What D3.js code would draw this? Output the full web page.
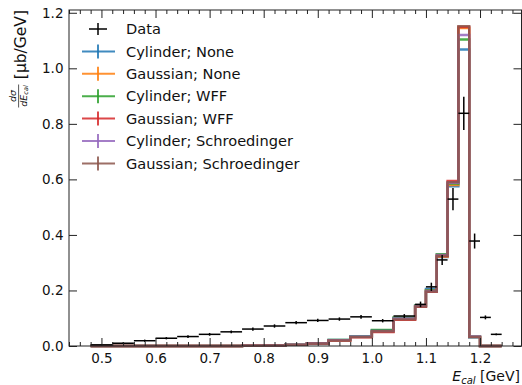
<!DOCTYPE html>
<html>
<head>
<meta charset="utf-8">
<script src="https://cdn.jsdelivr.net/npm/d3@7/dist/d3.min.js"></script>
<style>
  html, body { margin: 0; padding: 0; background: #fff; }
  svg { display: block; font-family: "DejaVu Sans", sans-serif; }
</style>
</head>
<body>
<svg id="chart" width="522" height="385"></svg>
<script>
// Bin edges of the calorimeter-energy histogram (GeV)
const binEdges = [0.48, 0.52, 0.56, 0.60, 0.64, 0.68, 0.72, 0.76, 0.80, 0.84, 0.88,
                  0.92, 0.96, 1.00, 1.04, 1.08, 1.10, 1.12, 1.14, 1.16, 1.18, 1.20, 1.22, 1.24];

// Measured cross section per bin and its uncertainty (μb/GeV)
const dataValues = [0.004, 0.010, 0.019, 0.028, 0.034, 0.042, 0.051, 0.061, 0.072, 0.084, 0.092,
                    0.097, 0.105, 0.091, 0.108, 0.150, 0.213, 0.310, 0.529, 0.838, 0.378, 0.103, 0.042];
const dataErrors = [0.003, 0.003, 0.004, 0.004, 0.005, 0.005, 0.005, 0.006, 0.006, 0.006, 0.006,
                    0.006, 0.007, 0.006, 0.007, 0.010, 0.015, 0.018, 0.040, 0.060, 0.027, 0.007, 0.003];

// Model predictions (nuclear density; form factor)
const cylinderNone = [0, 0, 0, 0, 0, 0, 0, 0.001, 0.002, 0.005, 0.010, 0.022, 0.035, 0.057, 0.100,
                      0.145, 0.205, 0.320, 0.575, 1.068, 0.030, 0, 0];
const gaussianNone = [0, 0, 0, 0, 0, 0, 0, 0.001, 0.002, 0.004, 0.009, 0.020, 0.033, 0.052, 0.097,
                      0.143, 0.200, 0.322, 0.580, 1.145, 0.032, 0, 0];
const cylinderWFF = [0, 0, 0, 0, 0, 0, 0, 0.001, 0.002, 0.005, 0.010, 0.022, 0.035, 0.058, 0.103,
                     0.146, 0.200, 0.331, 0.585, 1.104, 0.034, 0, 0];
const gaussianWFF = [0, 0, 0, 0, 0, 0, 0, 0.001, 0.002, 0.004, 0.009, 0.020, 0.031, 0.050, 0.094,
                     0.141, 0.195, 0.324, 0.594, 1.149, 0.033, 0, 0];
const cylinderSchroedinger = [0, 0, 0, 0, 0, 0, 0, 0.001, 0.002, 0.005, 0.010, 0.021, 0.034, 0.054, 0.099,
                              0.144, 0.198, 0.328, 0.588, 1.120, 0.034, 0, 0];
const gaussianSchroedinger = [0, 0, 0, 0, 0, 0, 0, 0.001, 0.002, 0.004, 0.009, 0.020, 0.032, 0.053, 0.096,
                              0.142, 0.196, 0.325, 0.590, 1.152, 0.033, 0, 0];

const seriesNames = ["Cylinder; None", "Gaussian; None", "Cylinder; WFF", "Gaussian; WFF",
                     "Cylinder; Schroedinger", "Gaussian; Schroedinger"];
const seriesColors = ["#1f77b4", "#ff7f0e", "#2ca02c", "#d62728", "#9467bd", "#8c564b"];
const seriesValues = [cylinderNone, gaussianNone, cylinderWFF, gaussianWFF,
                      cylinderSchroedinger, gaussianSchroedinger];

const xMajorTicks = [0.5, 0.6, 0.7, 0.8, 0.9, 1.0, 1.1, 1.2];
const yMajorTicks = [0.0, 0.2, 0.4, 0.6, 0.8, 1.0, 1.2];

// ---- layout ----
const plot = { left: 69, right: 521.5, top: 10, bottom: 346 };
const svg = d3.select("#chart");

const x = d3.scaleLinear().domain([0.44, 1.2767]).range([plot.left, plot.right]);
const y = d3.scaleLinear().domain([0, 1.21]).range([plot.bottom, plot.top]);

const axisColor = "#222";
const tickFont = 13.5;
const legendFont = 14.6;

// ---- model histograms (step outlines) ----
function stepPath(values) {
  const p = d3.path();
  p.moveTo(x(binEdges[0]), y(0));
  values.forEach((v, i) => {
    p.lineTo(x(binEdges[i]), y(v));
    p.lineTo(x(binEdges[i + 1]), y(v));
  });
  p.lineTo(x(binEdges[binEdges.length - 1]), y(0));
  return p.toString();
}

const models = svg.append("g").attr("class", "models");
seriesValues.forEach((vals, k) => {
  models.append("path")
    .attr("d", stepPath(vals))
    .attr("fill", "none")
    .attr("stroke", seriesColors[k])
    .attr("stroke-width", 2.4)
    .attr("stroke-opacity", 0.85)
    .attr("stroke-linejoin", "miter");
});

// ---- data error bars ----
const dataG = svg.append("g").attr("class", "data");
dataValues.forEach((v, i) => {
  const lo = binEdges[i], hi = binEdges[i + 1];
  const c = (lo + hi) / 2;
  dataG.append("line")
    .attr("x1", x(lo)).attr("x2", x(hi))
    .attr("y1", y(v)).attr("y2", y(v))
    .attr("stroke", "#000").attr("stroke-width", 1.5);
  dataG.append("line")
    .attr("x1", x(c)).attr("x2", x(c))
    .attr("y1", y(v - dataErrors[i])).attr("y2", y(v + dataErrors[i]))
    .attr("stroke", "#000").attr("stroke-width", 1.5);
});

// ---- axes: inward ticks on all four sides ----
const xMinorTicks = d3.range(0, 42).map(i => +(0.44 + i * 0.02).toFixed(2))
  .filter(t => t <= 1.27 && !xMajorTicks.some(m => Math.abs(m - t) < 1e-6));

const fmt = d3.format(".1f");

const axisBottom = d3.axisBottom(x).tickValues(xMajorTicks).tickFormat(fmt)
  .tickSizeInner(-8).tickSizeOuter(0).tickPadding(7.5);
const axisBottomMinor = d3.axisBottom(x).tickValues(xMinorTicks).tickFormat("")
  .tickSizeInner(-4).tickSizeOuter(0);
const axisTop = d3.axisTop(x).tickValues(xMajorTicks).tickFormat("")
  .tickSizeInner(-8).tickSizeOuter(0);
const axisTopMinor = d3.axisTop(x).tickValues(xMinorTicks).tickFormat("")
  .tickSizeInner(-4).tickSizeOuter(0);
const axisLeft = d3.axisLeft(y).tickValues(yMajorTicks).tickFormat(fmt)
  .tickSizeInner(-8).tickSizeOuter(0).tickPadding(5.5);
const axisRight = d3.axisRight(y).tickValues(yMajorTicks).tickFormat("")
  .tickSizeInner(-8).tickSizeOuter(0);

function styleAxis(g) {
  g.select(".domain").remove();
  g.selectAll(".tick line").attr("stroke", axisColor).attr("stroke-width", 1);
  g.selectAll(".tick text").attr("fill", "#111")
    .attr("font-family", "DejaVu Sans, sans-serif").attr("font-size", tickFont);
}

svg.append("g").attr("transform", `translate(0,${plot.bottom})`).call(axisBottom).call(styleAxis);
svg.append("g").attr("transform", `translate(0,${plot.bottom})`).call(axisBottomMinor).call(styleAxis);
svg.append("g").attr("transform", `translate(0,${plot.top})`).call(axisTop).call(styleAxis);
svg.append("g").attr("transform", `translate(0,${plot.top})`).call(axisTopMinor).call(styleAxis);
svg.append("g").attr("transform", `translate(${plot.left},0)`).call(axisLeft).call(styleAxis);
svg.append("g").attr("transform", `translate(${plot.right},0)`).call(axisRight).call(styleAxis);

// frame
svg.append("rect")
  .attr("x", plot.left).attr("y", plot.top)
  .attr("width", plot.right - plot.left).attr("height", plot.bottom - plot.top)
  .attr("fill", "none").attr("stroke", axisColor).attr("stroke-width", 1);

// ---- legend ----
const legend = svg.append("g").attr("class", "legend");
const legendRowY = d => 29 + d * 22.4;
const handleCx = 98;
const textX = 126;

legend.append("line").attr("x1", 89).attr("x2", 107)
  .attr("y1", legendRowY(0)).attr("y2", legendRowY(0))
  .attr("stroke", "#000").attr("stroke-width", 1.5);
legend.append("line").attr("x1", handleCx).attr("x2", handleCx)
  .attr("y1", legendRowY(0) - 6).attr("y2", legendRowY(0) + 6)
  .attr("stroke", "#000").attr("stroke-width", 1.5);
legend.append("text").attr("x", textX).attr("y", legendRowY(0) + 5.2)
  .attr("font-size", legendFont).attr("fill", "#111").text("Data");

seriesNames.forEach((name, k) => {
  const yy = legendRowY(k + 1);
  legend.append("line").attr("x1", 82).attr("x2", 115)
    .attr("y1", yy).attr("y2", yy)
    .attr("stroke", seriesColors[k]).attr("stroke-width", 2).attr("stroke-opacity", 0.85);
  legend.append("line").attr("x1", handleCx).attr("x2", handleCx)
    .attr("y1", yy - 7).attr("y2", yy + 7)
    .attr("stroke", seriesColors[k]).attr("stroke-width", 2).attr("stroke-opacity", 0.85);
  legend.append("text").attr("x", textX).attr("y", yy + 5.2)
    .attr("font-size", legendFont).attr("fill", "#111").text(name);
});

// ---- x label: E_cal [GeV], right-aligned to the axis ----
const xl = svg.append("text").attr("x", 520).attr("y", 380.5)
  .attr("text-anchor", "end").attr("font-size", 14).attr("fill", "#111");
xl.append("tspan").attr("font-style", "italic").text("E");
xl.append("tspan").attr("font-style", "italic").attr("font-size", 10).attr("dy", 3).text("cal");
xl.append("tspan").attr("dy", -3).text(" [GeV]");

// ---- y label: dσ/dE_cal [μb/GeV], placed at the top of the axis ----
const yl = svg.append("g").attr("transform", "rotate(-90)");
yl.append("text").attr("x", -10).attr("y", 25.5)
  .attr("text-anchor", "end").attr("font-size", 15.5).attr("fill", "#111")
  .text("[μb/GeV]");
const fracCenter = -96;
yl.append("text").attr("x", fracCenter).attr("y", 16)
  .attr("text-anchor", "middle").attr("font-size", 9.5).attr("font-style", "italic").attr("fill", "#111")
  .text("dσ");
yl.append("line").attr("x1", fracCenter - 11.5).attr("x2", fracCenter + 11.5)
  .attr("y1", 18.6).attr("y2", 18.6).attr("stroke", "#111").attr("stroke-width", 0.7);
const den = yl.append("text").attr("x", fracCenter).attr("y", 26.5)
  .attr("text-anchor", "middle").attr("font-size", 9.5).attr("font-style", "italic").attr("fill", "#111");
den.append("tspan").text("dE");
den.append("tspan").attr("font-size", 6.5).attr("dy", 1.8).text("cal");
</script>
</body>
</html>
